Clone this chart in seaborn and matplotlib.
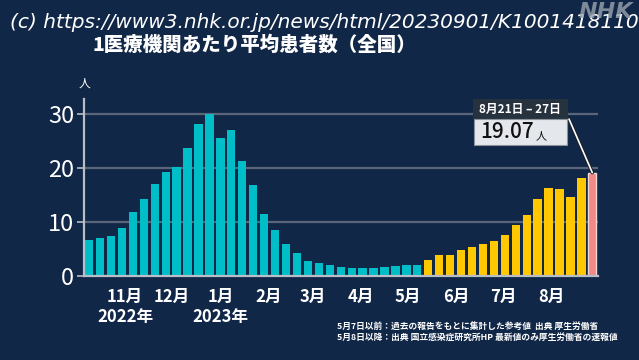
import matplotlib
matplotlib.use("Agg")
import matplotlib.pyplot as plt
import matplotlib.transforms as mtransforms
from matplotlib.patches import Rectangle
import numpy as np
import pandas as pd
import seaborn as sns

# weekly average patients per medical institution (week ending Sunday)
first_week_end = "2022-10-09"
values_before = [6.6, 6.9, 7.4, 8.8, 11.7, 14.2, 16.9, 19.1, 20.1, 23.6,
                 28.0, 30.0, 25.4, 27.0, 21.3, 16.7, 11.4, 8.4, 5.9, 4.2,
                 2.8, 2.3, 1.9, 1.6, 1.4, 1.35, 1.4, 1.6, 1.85, 1.97, 1.97]
values_after = [2.83, 3.75, 3.8, 4.74, 5.3, 5.85, 6.34, 7.5, 9.35, 11.2,
                14.15, 16.2, 16.1, 14.6, 18.0]
value_latest = 19.07

month_labels = ["11月", "12月", "1月", "2月", "3月", "4月", "5月", "6月", "7月", "8月"]
month_starts = ["2022-11-01", "2022-12-01", "2023-01-01", "2023-02-01", "2023-03-01",
                "2023-04-01", "2023-05-01", "2023-06-01", "2023-07-01", "2023-08-01"]
year_labels = {"2022年": "2022-11-01", "2023年": "2023-01-01"}

latest_label = "8月21日 – 27日"
title = "1医療機関あたり平均患者数（全国）"
notes = ["5月7日以前：過去の報告をもとに集計した参考値  出典 厚生労働省",
         "5月8日以降：出典 国立感染症研究所HP 最新値のみ厚生労働省の速報値"]

bg = "#112747"
colors = {"before": "#00BEC8", "after": "#FFC800", "latest": "#F08A86"}

values = values_before + values_after + [value_latest]
groups = (["before"] * len(values_before) + ["after"] * len(values_after) + ["latest"])
weeks = pd.date_range(first_week_end, periods=len(values), freq="7D")
df = pd.DataFrame({"week": weeks.strftime("%Y-%m-%d"), "value": values, "group": groups})

sns.set_style("dark")
plt.rcParams["font.family"] = ["Noto Sans CJK JP", "DejaVu Sans"]

fig = plt.figure(figsize=(6.39, 3.6), dpi=100, facecolor=bg)
ax = fig.add_axes([84 / 639, 1 - 275.7 / 360, 514 / 639, 176.7 / 360])
ax.set_facecolor(bg)

sns.barplot(data=df, x="week", y="value", hue="group", palette=colors,
            dodge=False, width=0.76, saturation=1, legend=False, ax=ax, zorder=3)
for p in ax.patches:
    p.set_edgecolor("none")
last = max(ax.patches, key=lambda p: p.get_x())
last.set_edgecolor("#F4D6D4")
last.set_linewidth(1)

ax.set_xlim(-0.47, len(values) - 0.48)
ax.set_ylim(0, 32.7)
ax.set_yticks([0, 10, 20, 30])
ax.yaxis.grid(True, color="#5A6678", lw=1.6, zorder=1)
ax.xaxis.grid(False)

t0 = pd.Timestamp(first_week_end)
tick_pos = [(pd.Timestamp(m) - t0).days / 7 for m in month_starts]
ax.set_xticks(tick_pos)
ax.set_xticklabels(month_labels, fontsize=12, fontweight="bold", color="white")
ax.tick_params(axis="x", length=0, pad=9)
ax.tick_params(axis="y", labelsize=17, labelcolor="white", length=5, width=1.2,
               color="#B8BEC8", pad=2, left=True)
ax.set_xlabel("")
ax.set_ylabel("")

for s in ["top", "right"]:
    ax.spines[s].set_visible(False)
for s in ["left", "bottom"]:
    ax.spines[s].set_visible(True)
    ax.spines[s].set_color("#B8BEC8")
    ax.spines[s].set_linewidth(1.6)
    ax.spines[s].set_zorder(4)

trans = mtransforms.blended_transform_factory(ax.transData, ax.transAxes)
for lab, d in year_labels.items():
    ax.text((pd.Timestamp(d) - t0).days / 7, -0.232, lab, transform=trans,
            ha="center", va="center", fontsize=12, fontweight="bold", color="white")

ax.text(0, 1.09, "人", transform=ax.transAxes, ha="center", va="center",
        fontsize=8.5, color="white")

fig.text(254 / 639, 1 - 45 / 360, title, ha="center", va="center",
         fontsize=14, fontweight="black", color="white")
fig.text(10 / 639, 1 - 22 / 360,
         "(c) https://www3.nhk.or.jp/news/html/20230901/K10014181101000.html",
         ha="left", va="center", fontsize=14.5, color="white",
         family="DejaVu Sans", style="italic")
fig.text(633 / 639, 1 - 12 / 360, "NHK", ha="right", va="center", fontsize=16,
         fontweight="bold", style="italic", color="#9AA3AE", alpha=0.8,
         family="DejaVu Sans")

for i, line in enumerate(notes):
    fig.text(337 / 639, 1 - (326 + i * 11.5) / 360, line, ha="left", va="center",
             fontsize=6.3, fontweight="bold", color="white")

# callout for the latest week
fig.patches.append(Rectangle((473 / 639, 1 - 119 / 360), 95 / 639, 20 / 360,
                             transform=fig.transFigure, facecolor="#27323F",
                             edgecolor="none", zorder=5))
fig.patches.append(Rectangle((474 / 639, 1 - 145 / 360), 93 / 639, 26 / 360,
                             transform=fig.transFigure, facecolor="#E4E7EB",
                             edgecolor="#8A929C", lw=0.8, zorder=5))
fig.text(520 / 639, 1 - 109 / 360, latest_label, ha="center", va="center",
         fontsize=8.5, fontweight="bold", color="white", zorder=6)
fig.text(480 / 639, 1 - 132 / 360, f"{value_latest:.2f}", ha="left", va="center",
         fontsize=15, fontweight="medium", color="#111111", zorder=6)
fig.text(536 / 639, 1 - 136 / 360, "人", ha="left", va="center",
         fontsize=8, color="#111111", zorder=6)

ax.annotate("", xy=(len(values) - 1, value_latest), xycoords="data",
            xytext=(569, 360 - 119), textcoords="figure pixels",
            arrowprops=dict(arrowstyle="-", color="#1A1F26", lw=2.6,
                            shrinkA=0, shrinkB=0), zorder=5)
ax.annotate("", xy=(len(values) - 1, value_latest), xycoords="data",
            xytext=(569, 360 - 119), textcoords="figure pixels",
            arrowprops=dict(arrowstyle="-", color="white", lw=1.2,
                            shrinkA=0, shrinkB=0), zorder=6)

fig.savefig("out.png", dpi=100, facecolor=bg)
